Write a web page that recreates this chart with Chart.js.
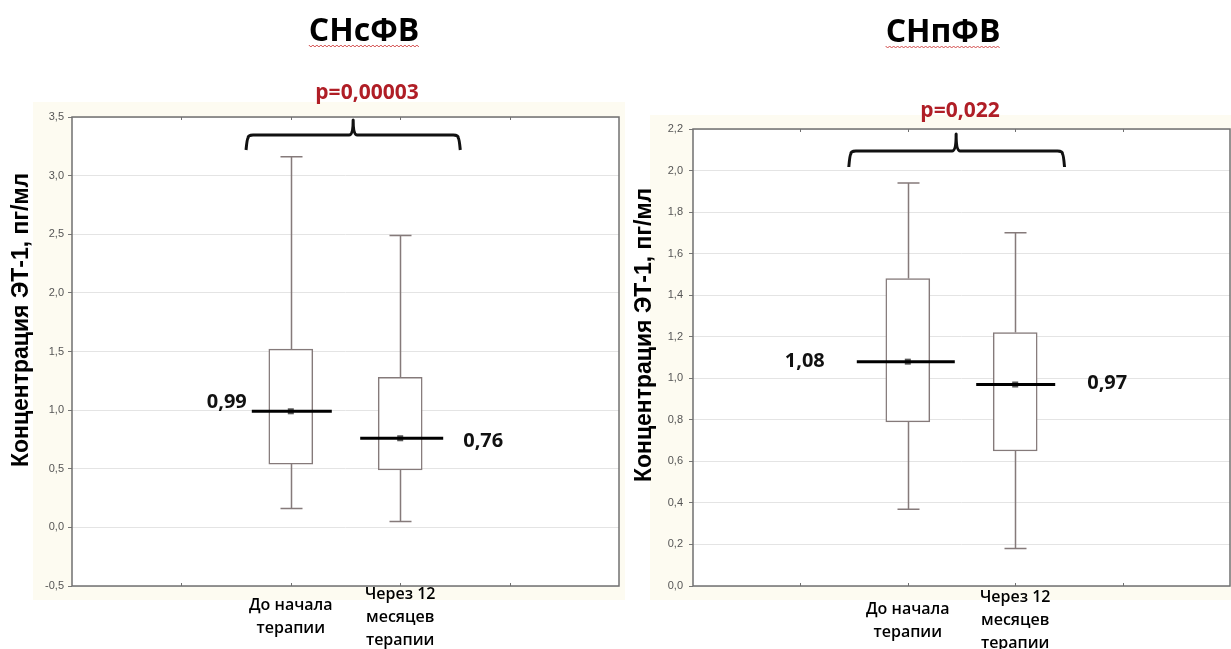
<!DOCTYPE html>
<html><head><meta charset="utf-8">
<script src="https://cdn.jsdelivr.net/npm/chart.js@4"></script>
<style>
html,body{margin:0;padding:0;background:#fff;width:1231px;height:649px;overflow:hidden}
.wrap{position:absolute;top:0;height:649px}
</style></head><body>
<div class="wrap" style="left:0;width:625px"><canvas id="c1"></canvas></div>
<div class="wrap" style="left:625px;width:606px"><canvas id="c2"></canvas></div>
<script>
// ---------- data ----------
const categories = [['До начала', 'терапии'], ['Через 12', 'месяцев', 'терапии']];
const panelTitles = ['СНсФВ', 'СНпФВ'];
const pValues = ['p=0,00003', 'p=0,022'];
const yAxisTitle = 'Концентрация ЭТ-1, пг/мл';

// Left panel: СНсФВ
const leftMin = [0.16, 0.05];
const leftQ1 = [0.54, 0.49];
const leftMedian = [0.99, 0.76];
const leftQ3 = [1.52, 1.28];
const leftMax = [3.16, 2.49];
const leftYTicks = [-0.5, 0.0, 0.5, 1.0, 1.5, 2.0, 2.5, 3.0, 3.5];

// Right panel: СНпФВ
const rightMin = [0.37, 0.18];
const rightQ1 = [0.79, 0.65];
const rightMedian = [1.08, 0.97];
const rightQ3 = [1.48, 1.22];
const rightMax = [1.94, 1.70];
const rightYTicks = [0.0, 0.2, 0.4, 0.6, 0.8, 1.0, 1.2, 1.4, 1.6, 1.8, 2.0, 2.2];

// ---------- helpers ----------
const PAD = 2; // empty category slots before the two groups
const axisLabels = ['', '', ...categories, '', ''];
const fmt = (v, d) => v.toFixed(d).replace('.', ',');
const BOXC = '#857a7a';

function makeDecor(cfg) {
  return {
    id: 'decor',
    beforeDraw(chart) {
      const {ctx, chartArea: a} = chart;
      ctx.save();
      ctx.fillStyle = '#fdfbf1';
      ctx.fillRect(cfg.bg[0], cfg.bg[1], cfg.bg[2], cfg.bg[3]);
      ctx.fillStyle = '#ffffff';
      ctx.fillRect(a.left, a.top, a.right - a.left, a.bottom - a.top);
      ctx.restore();
    },
    beforeDatasetsDraw(chart) {
      const {ctx} = chart;
      const xs = chart.scales.x, ys = chart.scales.y;
      ctx.save();
      ctx.strokeStyle = BOXC;
      ctx.lineWidth = 1.5;
      cfg.min.forEach((mn, i) => {
        const x = Math.round(xs.getPixelForValue(i + PAD)) + 0.5;
        const yMin = ys.getPixelForValue(mn), yMax = ys.getPixelForValue(cfg.max[i]);
        const yQ1 = ys.getPixelForValue(cfg.q1[i]), yQ3 = ys.getPixelForValue(cfg.q3[i]);
        ctx.beginPath();
        ctx.moveTo(x, yQ3); ctx.lineTo(x, yMax);
        ctx.moveTo(x - 11, yMax); ctx.lineTo(x + 11, yMax);
        ctx.moveTo(x, yQ1); ctx.lineTo(x, yMin);
        ctx.moveTo(x - 11, yMin); ctx.lineTo(x + 11, yMin);
        ctx.stroke();
      });
      ctx.restore();
    },
    afterDatasetsDraw(chart) {
      const {ctx} = chart;
      const xs = chart.scales.x, ys = chart.scales.y;
      ctx.save();
      cfg.med.forEach((m, i) => {
        const x = xs.getPixelForValue(i + PAD);
        const y = ys.getPixelForValue(m);
        const ext = cfg.medExt[i];
        ctx.fillStyle = '#555';
        ctx.fillRect(x - 3, y - 3, 6, 6);
        ctx.strokeStyle = '#000';
        ctx.lineWidth = 3;
        ctx.beginPath();
        ctx.moveTo(x + ext[0], y); ctx.lineTo(x + ext[1], y);
        ctx.stroke();
        const lab = cfg.medLab[i];
        ctx.font = 'bold 20px "Open Sans"';
        ctx.fillStyle = '#111';
        ctx.textBaseline = 'middle';
        if (lab.side === 'left') {
          ctx.textAlign = 'right';
          ctx.fillText(fmt(m, 2), x + ext[0] - lab.gap, y + lab.dy);
        } else {
          ctx.textAlign = 'left';
          ctx.fillText(fmt(m, 2), x + ext[1] + lab.gap, y + lab.dy);
        }
      });
      ctx.restore();
    },
    afterDraw(chart) {
      const {ctx, chartArea: a} = chart;
      const xs = chart.scales.x;
      ctx.save();
      // frame
      ctx.strokeStyle = '#707070';
      ctx.lineWidth = 1.5;
      ctx.strokeRect(a.left, a.top, a.right - a.left, a.bottom - a.top);
      // small inner tick marks on top/bottom
      ctx.lineWidth = 1;
      ctx.beginPath();
      for (let k = 1; k < axisLabels.length - 1; k++) {
        const x = Math.round(xs.getPixelForValue(k)) + 0.5;
        ctx.moveTo(x, a.top); ctx.lineTo(x, a.top + 3);
        ctx.moveTo(x, a.bottom); ctx.lineTo(x, a.bottom - 3);
      }
      ctx.stroke();
      // title
      ctx.font = 'bold 32px "Open Sans"';
      ctx.fillStyle = '#000';
      ctx.textAlign = 'center';
      ctx.textBaseline = 'middle';
      ctx.fillText(cfg.title, cfg.titlePos[0], cfg.titlePos[1]);
      const tw = ctx.measureText(cfg.title).width;
      ctx.strokeStyle = '#d24a4a';
      ctx.lineWidth = 1;
      ctx.beginPath();
      let up = true;
      for (let x = cfg.titlePos[0] - tw / 2; x <= cfg.titlePos[0] + tw / 2; x += 2) {
        const yy = cfg.titlePos[1] + 14 + (up ? -1 : 1);
        if (x === cfg.titlePos[0] - tw / 2) ctx.moveTo(x, yy); else ctx.lineTo(x, yy);
        up = !up;
      }
      ctx.stroke();
      // p value
      ctx.font = 'bold 21px "Open Sans"';
      ctx.fillStyle = '#b01e26';
      ctx.fillText(cfg.p, cfg.pPos[0], cfg.pPos[1]);
      // brace
      const bx1 = xs.getPixelForValue(cfg.brace[0]);
      const bxc = xs.getPixelForValue(cfg.brace[1]);
      const bx2 = xs.getPixelForValue(cfg.brace[2]);
      const yH = a.top + cfg.braceY[0], yE = a.top + cfg.braceY[1], yT = a.top + cfg.braceY[2];
      ctx.strokeStyle = '#111';
      ctx.lineWidth = 3;
      ctx.lineJoin = 'round';
      ctx.beginPath();
      ctx.moveTo(bx1 - 1, yE);
      ctx.quadraticCurveTo(bx1, yH + 4, bx1 + 1, yH + 3);
      ctx.quadraticCurveTo(bx1 + 1, yH, bx1 + 6, yH);
      ctx.lineTo(bxc - 4, yH);
      ctx.quadraticCurveTo(bxc, yH, bxc, yT);
      ctx.quadraticCurveTo(bxc, yH, bxc + 4, yH);
      ctx.lineTo(bx2 - 6, yH);
      ctx.quadraticCurveTo(bx2 - 1, yH, bx2 - 1, yH + 3);
      ctx.quadraticCurveTo(bx2, yH + 4, bx2 + 1, yE);
      ctx.stroke();
      // y title
      ctx.translate(cfg.yTitlePos[0], cfg.yTitlePos[1]);
      ctx.rotate(-Math.PI / 2);
      ctx.font = 'bold 23px "Liberation Sans"';
      ctx.fillStyle = '#000';
      ctx.textAlign = 'center';
      ctx.textBaseline = 'middle';
      ctx.fillText(yAxisTitle, 0, 0);
      ctx.restore();
    }
  };
}

function makeChart(id, cfg) {
  const boxData = axisLabels.map(() => null);
  cfg.q1.forEach((q, i) => { boxData[i + PAD] = [q, cfg.q3[i]]; });
  const ticks = cfg.yTicks;
  return new Chart(document.getElementById(id), {
    type: 'bar',
    data: {
      labels: axisLabels,
      datasets: [{
        data: boxData,
        backgroundColor: '#ffffff',
        borderColor: BOXC,
        borderWidth: 1.5,
        borderSkipped: false,
        barThickness: 44
      }]
    },
    options: {
      responsive: true,
      maintainAspectRatio: false,
      animation: false,
      layout: {padding: {top: cfg.top, right: cfg.right, left: 0, bottom: 0}},
      plugins: {legend: {display: false}, tooltip: {enabled: false}},
      scales: {
        x: {
          offset: false,
          grid: {display: false, drawTicks: false},
          border: {display: false},
          ticks: {
            autoSkip: false, maxRotation: 0, minRotation: 0,
            crossAlign: 'center',
            padding: cfg.xPad,
            color: '#000',
            font: {family: '"Open Sans"', size: 16, weight: '600', lineHeight: '23px'}
          },
          afterFit: s => { s.height = 63; s.paddingLeft = 0; s.paddingRight = 0; }
        },
        y: {
          min: ticks[0],
          max: ticks[ticks.length - 1],
          ticks: {
            stepSize: +(ticks[1] - ticks[0]).toFixed(2),
            callback: v => fmt(v, 1),
            color: '#555',
            padding: cfg.yPad,
            font: {family: '"Liberation Sans"', size: 11}
          },
          grid: {color: '#e4e4e4', tickColor: '#777', tickLength: 4, lineWidth: 1},
          border: {display: false},
          afterFit: s => { s.width = cfg.yWidth; s.paddingTop = 0; s.paddingBottom = 0; }
        }
      }
    },
    plugins: [makeDecor(cfg)]
  });
}

makeChart('c1', {
  min: leftMin, q1: leftQ1, med: leftMedian, q3: leftQ3, max: leftMax, yTicks: leftYTicks,
  top: 117, right: 6, yWidth: 72, xPad: 8, yPad: 4,
  bg: [33, 102, 592, 498],
  title: panelTitles[0], titlePos: [364, 32],
  p: pValues[0], pPos: [367, 93],
  brace: [1.6, 2.57, 3.54], braceY: [18, 33, 3],
  medExt: [[-39, 41], [-40, 43]],
  medLab: [{side: 'left', gap: 5, dy: -9}, {side: 'right', gap: 20, dy: 3}],
  yTitlePos: [22, 320]
});

makeChart('c2', {
  min: rightMin, q1: rightQ1, med: rightMedian, q3: rightQ3, max: rightMax, yTicks: rightYTicks,
  top: 129, right: 1, yWidth: 68, xPad: 11.5, yPad: 6,
  bg: [25, 115, 581, 485],
  title: panelTitles[1], titlePos: [318, 33],
  p: pValues[1], pPos: [335, 111],
  brace: [1.46, 2.45, 3.45], braceY: [22, 38, 5],
  medExt: [[-51, 47], [-39, 40]],
  medLab: [{side: 'left', gap: 32, dy: 0}, {side: 'right', gap: 32, dy: -1}],
  yTitlePos: [20, 335]
});
</script>
</body></html>
